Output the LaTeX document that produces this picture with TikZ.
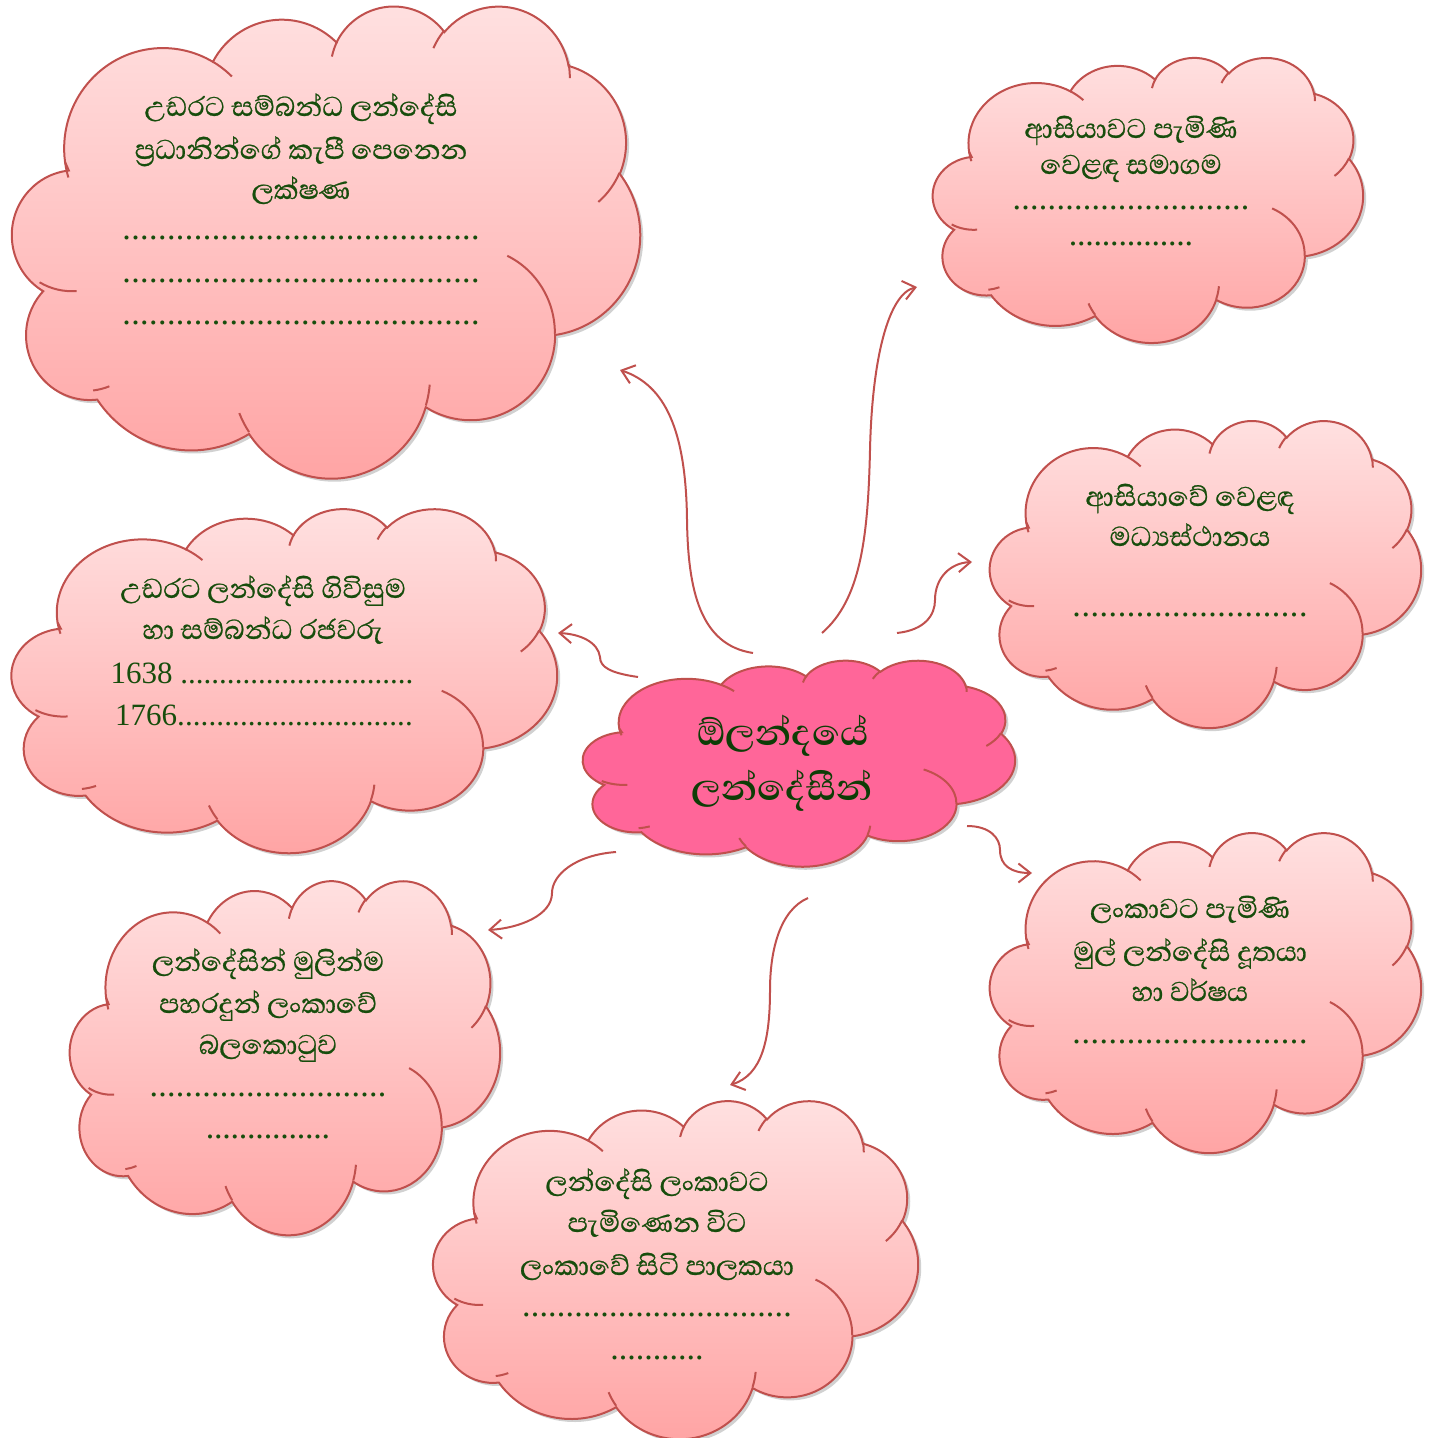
\documentclass[tikz,border=0pt]{standalone}
\usepackage{fontspec}
\setmainfont{Liberation Serif}
\newfontfamily\sinhalafont[Script=Sinhala,FakeBold=0.7]{Abhaya Libre}
\newfontfamily\sinhalatitle[Script=Sinhala]{Abhaya Libre}
\usetikzlibrary{arrows.meta}
\definecolor{edge}{HTML}{C0504D}
\definecolor{pinkTop}{HTML}{FFE1E1}
\definecolor{pinkBot}{HTML}{FFA3A3}
\definecolor{hotpink}{HTML}{FF6699}
\definecolor{txt}{HTML}{174D0C}
\definecolor{ctxt}{HTML}{0E3D06}
% elliptical arc given as in DrawingML (visual angles, degrees)
\newcommand\darc[4]{\pgfextra{%
 \pgfmathparse{atan2((#1)*sin(#3),(#2)*cos(#3))}\xdef\dA{\pgfmathresult}%
 \pgfmathparse{atan2((#1)*sin((#3)+(#4)),(#2)*cos((#3)+(#4)))}\xdef\dB{\pgfmathresult}%
 \pgfmathparse{(\dB)-(\dA)+360*and((#4)>0,(\dB)<(\dA))-360*and((#4)<0,(\dB)>(\dA))}\xdef\dD{\pgfmathresult}%
 } arc[start angle=\dA, delta angle=\dD, x radius=#1, y radius=#2]}
\newcommand\cloudoutline{(3.9,14.37)
 \darc{6.753}{9.19}{-190.4875}{123.7805}
 \darc{5.333}{7.267}{-144.1024}{89.9452}
 \darc{4.365}{5.945}{-145.8079}{99.7230}
 \darc{4.857}{6.595}{-130.9861}{117.2417}
 \darc{5.333}{7.273}{-78.7089}{109.0269}
 \darc{6.775}{9.22}{-46.2673}{130.2690}
 \darc{5.785}{7.867}{0.6250}{114.0333}
 \darc{6.752}{9.215}{22.4516}{115.1726}
 \darc{7.72}{10.543}{66.2426}{71.1533}
 \darc{4.36}{5.918}{-274.9421}{146.7356}
 \darc{4.345}{5.945}{-246.8285}{152.5189} -- cycle}
\newcommand\cloudinner{
 (4.693,26.177) \darc{4.345}{5.945}{86.742}{26.4295}
 (6.928,34.899) \darc{4.36}{5.918}{73.6105}{11.4475}
 (16.478,39.09) \darc{6.752}{9.215}{137.6242}{14.0811}
 (28.827,34.751) \darc{6.752}{9.215}{6.4533}{15.9984}
 (34.129,22.954) \darc{5.785}{7.867}{-70.2924}{70.9174}
 (41.798,15.354) \darc{5.333}{7.273}{30.318}{27.7515}
 (38.324,5.426) \darc{4.857}{6.595}{-13.7443}{14.8589}
 (29.078,3.952) \darc{4.857}{6.595}{-149.1815}{18.1954}
 (22.141,4.72) \darc{4.365}{5.945}{-163.4943}{17.6864}
 (14.0,5.192) \darc{6.753}{9.19}{-66.707}{12.3194}
 (4.127,15.789) \darc{6.753}{9.19}{157.6544}{11.8582}}
\newcommand\cloud[5]{%
 \pgfmathsetmacro\cwx{((#3)-(#1))/43.2*0.5}%
 \pgfmathsetmacro\cwy{((#4)-(#2))/43.2*0.5}%
 \begin{scope}[shift={(#1,#2)},x=\cwx pt,y=-\cwy pt]
  \begin{scope}[xshift=1.5pt,yshift=-1.5pt]
   \path[fill=black,opacity=0.18] \cloudoutline;
  \end{scope}
  \path[#5] \cloudoutline;
  \path[draw=edge,line width=1pt] \cloudinner;
 \end{scope}}
\newcommand\dotrow[2]{\hbox to #2pt{\xleaders\hbox to \dimexpr #2pt/#1\relax{\hss.\hss}\hfill}}
\tikzset{
 softcloud/.style={draw=edge,line width=1pt,top color=pinkTop,bottom color=pinkBot},
 hotcloud/.style={draw=edge,line width=1pt,fill=hotpink},
 lbl/.style={font=\sinhalafont\fontsize{17.4}{20}\selectfont,text=txt,anchor=base,inner sep=0pt},
 dotlbl/.style={font=\fontsize{17}{20}\selectfont,text=txt,anchor=base,inner sep=0pt},
 numlbl/.style={font=\fontsize{15.5}{18}\selectfont,text=txt,anchor=base,inner sep=0pt},
 titlelbl/.style={font=\sinhalatitle\bfseries\fontsize{23.5}{26}\selectfont,text=ctxt,anchor=base,inner sep=0pt},
 conn/.style={draw=edge,line width=1pt,-{Straight Barb[length=6pt,width=9.5pt]}}
}
\begin{document}
\begin{tikzpicture}[x=0.5pt,y=-0.5pt]
\useasboundingbox (0,0) rectangle (1431,1438);
% clouds
\cloud{8}{5}{640}{477}{softcloud}
\cloud{930}{57}{1363}{342}{softcloud}
\cloud{987}{420}{1421}{727}{softcloud}
\cloud{8}{508}{557}{852}{softcloud}
\cloud{580}{660}{1015}{866}{hotcloud}
\cloud{987}{832}{1421}{1152}{softcloud}
\cloud{67}{880}{500}{1234}{softcloud}
\cloud{430}{1100}{918}{1438}{softcloud}
% cloud 1
\node[lbl] (c1a) at (301,116) {උඩරට සම්බන්ධ ලන්දේසි};
\node[lbl] (c1b) at (301,159) {ප්‍රධානින්ගේ කැපී පෙනෙන};
\node[lbl] (c1c) at (301,199) {ලක්ෂණ};
\node[dotlbl] (c1d) at (301,240) {\dotrow{41}{179}};
\node[dotlbl] (c1e) at (301,283) {\dotrow{41}{179}};
\node[dotlbl] (c1f) at (301,325) {\dotrow{41}{179}};
% cloud 2
\node[lbl] (c2a) at (1131,138) {ආසියාවට පැමිණි};
\node[lbl] (c2b) at (1131,174) {වෙළඳ සමාගම};
\node[dotlbl] (c2c) at (1131,210) {\dotrow{27}{118.5}};
\node[dotlbl] (c2d) at (1131,246) {\dotrow{15}{62}};
% cloud 3
\node[lbl] (c3a) at (1190,506) {ආසියාවේ වෙළඳ};
\node[lbl] (c3b) at (1190,546) {මධ්‍යස්ථානය};
\node[dotlbl] (c3c) at (1190,616) {\dotrow{27}{118}};
% cloud 4
\node[lbl] (c4a) at (263,598) {උඩරට ලන්දේසි ගිවිසුම};
\node[lbl] (c4b) at (263,639) {හා සම්බන්ධ රජවරු};
\node[numlbl] (c4c) at (262,683) {1638 \dotrow{30}{116.5}};
\node[numlbl] (c4d) at (264,725) {1766\dotrow{31}{118}};
% centre
\node[titlelbl] (c5a) at (783,745) {ඕලන්දයේ};
\node[titlelbl] (c5b) at (782,800) {ලන්දේසීන්};
% cloud 6
\node[lbl] (c6a) at (1190,918) {ලංකාවට පැමිණි};
\node[lbl] (c6b) at (1190,961) {මුල් ලන්දේසි දූතයා};
\node[lbl] (c6c) at (1190,1001) {හා වර්ෂය};
\node[dotlbl] (c6d) at (1190,1043) {\dotrow{27}{118}};
% cloud 7
\node[lbl] (c7a) at (268,971) {ලන්දේසින් මුලින්ම};
\node[lbl] (c7b) at (268,1013) {පහරදුන් ලංකාවේ};
\node[lbl] (c7c) at (268,1054) {බලකොටුව};
\node[dotlbl] (c7d) at (268,1096) {\dotrow{27}{118.5}};
\node[dotlbl] (c7e) at (268,1138) {\dotrow{15}{62}};
% cloud 8
\node[lbl] (c8a) at (657,1191) {ලන්දේසි ලංකාවට};
\node[lbl] (c8b) at (657,1232) {පැමිණෙන විට};
\node[lbl] (c8c) at (657,1275) {ලංකාවේ සිටි පාලකයා};
\node[dotlbl] (c8d) at (657,1316) {\dotrow{31}{135}};
\node[dotlbl] (c8e) at (657,1359) {\dotrow{11}{46.5}};
% connector ends
\coordinate (a1s) at (753,653); \coordinate (a1e) at (620,370);
\coordinate (a2s) at (822,633); \coordinate (a2e) at (917,287);
\coordinate (a3s) at (897,633); \coordinate (a3e) at (972,562);
\coordinate (a4s) at (638,677); \coordinate (a4e) at (558,633);
\coordinate (a5s) at (967,826); \coordinate (a5e) at (1032,873);
\coordinate (a6s) at (616,852); \coordinate (a6e) at (488,930);
\coordinate (a7s) at (808,898); \coordinate (a7e) at (730,1085);
\draw[conn] (a1s) .. controls (700,645) and (688,590) .. (687,520) .. controls (686,430) and (665,385) .. (a1e);
\draw[conn] (a2s) .. controls (860,600) and (868,540) .. (870,450) .. controls (872,360) and (888,294) .. (a2e);
\draw[conn] (a3s) .. controls (925,630) and (935,615) .. (935,600) .. controls (935,578) and (950,563) .. (a3e);
\draw[conn] (a4s) .. controls (610,673) and (600,667) .. (600,657) .. controls (598,642) and (580,634) .. (a4e);
\draw[conn] (a5s) .. controls (990,826) and (1000,838) .. (1000,850) .. controls (1000,866) and (1012,873) .. (a5e);
\draw[conn] (a6s) .. controls (575,855) and (552,875) .. (552,893) .. controls (552,915) and (520,928) .. (a6e);
\draw[conn] (a7s) .. controls (780,910) and (770,950) .. (770,990) .. controls (770,1040) and (762,1075) .. (a7e);
\end{tikzpicture}
\end{document}
